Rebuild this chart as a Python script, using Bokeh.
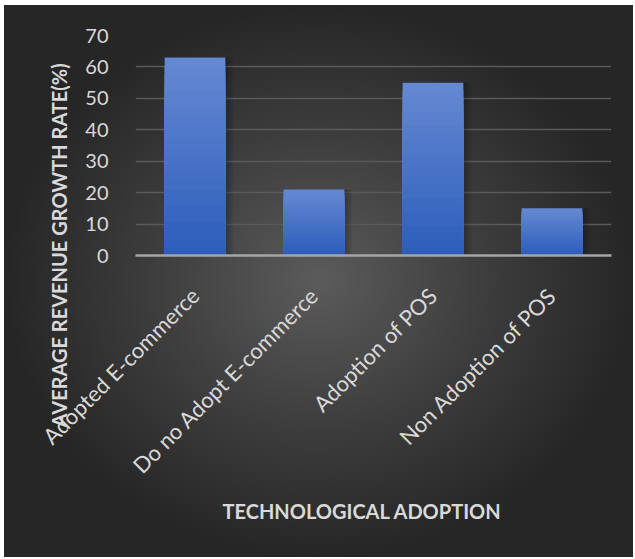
import numpy as np
from math import pi
from bokeh.plotting import figure
from bokeh.models import Range1d, FactorRange, Title, ColumnDataSource
from bokeh.transform import dodge
from bokeh.embed import file_html
from bokeh.resources import INLINE

categories = ["Adopted E-commerce", "Do no Adopt E-commerce", "Adoption of POS", "Non Adoption of POS"]
growth_rate = [63, 21, 55, 15]
y_ticks = [0, 10, 20, 30, 40, 50, 60, 70]
x_title = "TECHNOLOGICAL ADOPTION"
y_title = "AVERAGE REVENUE GROWTH RATE(%)"

W, H = 629, 552
p = figure(width=W, height=H,
           x_range=FactorRange(*categories, range_padding=0),
           y_range=Range1d(0, 70),
           output_backend="svg", toolbar_location=None,
           min_border_left=131, min_border_right=22,
           min_border_top=30, min_border_bottom=302)
p.margin = (5, 2, 2, 4)
p.styles = {"background": "radial-gradient(ellipse farthest-side at 50% 50%, #5b5b5b 0%, #3c3c3c 55%, #262626 100%)"}
p.background_fill_alpha = 0
p.border_fill_alpha = 0
p.outline_line_color = None

# grid
p.xgrid.grid_line_color = None
p.ygrid.ticker = y_ticks
p.ygrid.grid_line_color = "#5a5a5a"
p.ygrid.grid_line_width = 1.5

# y axis
p.yaxis.ticker = y_ticks
p.yaxis.axis_line_color = None
p.yaxis.major_tick_line_color = None
p.yaxis.minor_tick_line_color = None
p.yaxis.major_label_standoff = 21
p.yaxis.major_label_text_font = "Lato"
p.yaxis.major_label_text_font_size = "20px"
p.yaxis.major_label_text_color = "#d9d9d9"

# x axis
p.xaxis.axis_line_color = "#a6a6a6"
p.xaxis.axis_line_width = 2.5
p.xaxis.major_tick_line_color = None
p.xaxis.minor_tick_line_color = None
p.xaxis.major_label_orientation = pi / 4
p.xaxis.major_label_standoff = 30
p.xaxis.major_label_text_font = "Lato"
p.xaxis.major_label_text_font_size = "22px"
p.xaxis.major_label_text_color = "#d9d9d9"

# bars: soft shadow then vertical gradient built from the data values
data = {"cat": categories, "val": growth_rate}
N = 24
top_rgb = np.array([0x66, 0x89, 0xd2])
bot_rgb = np.array([0x2c, 0x5d, 0xbb])
for k in range(N):
    f = 1 - k / N
    data[f"t{k}"] = [v * f for v in growth_rate]
src = ColumnDataSource(data)

for k in range(1, 5):
    p.vbar(x=dodge("cat", 0.012 * k, range=p.x_range), top="val", width=0.51 + 0.01 * k,
           source=src, fill_color="black", fill_alpha=0.06, line_color=None)

for k in range(N):
    f = 1 - (k + 0.5) / N
    c = bot_rgb + (top_rgb - bot_rgb) * f
    col = "#%02x%02x%02x" % tuple(int(round(v)) for v in c)
    p.vbar(x="cat", top=f"t{k}", width=0.51, source=src,
           fill_color=col, line_color=None)

p.add_layout(Title(text=y_title, align="left", offset=-172, standoff=24,
                   text_font="Lato", text_font_style="bold", text_font_size="20px",
                   text_color="#d9d9d9"), "left")
p.add_layout(Title(text=x_title, align="left", offset=87,
                   text_font="Lato", text_font_style="bold", text_font_size="20px",
                   text_color="#d9d9d9"), "below")

open("out.html", "w").write(file_html(p, INLINE))
